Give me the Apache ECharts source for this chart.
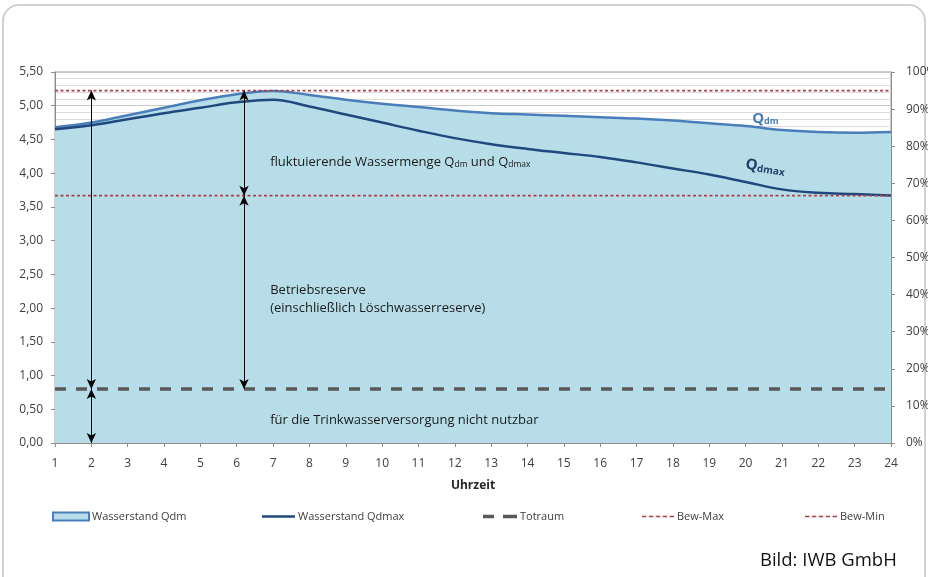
<!DOCTYPE html>
<html>
<head>
<meta charset="utf-8">
<script src="https://cdn.jsdelivr.net/npm/echarts@6/dist/echarts.min.js"></script>
<style>
html,body{margin:0;padding:0;background:#fff;}
#c{width:928px;height:577px;}
</style>
</head>
<body>
<div id="c"></div>
<script>
const hours = [1,2,3,4,5,6,7,8,9,10,11,12,13,14,15,16,17,18,19,20,21,22,23,24];
const qdm   = [4.68,4.75,4.86,4.97,5.08,5.17,5.22,5.16,5.09,5.03,4.98,4.93,4.89,4.87,4.85,4.83,4.81,4.78,4.74,4.70,4.64,4.61,4.60,4.61];
const qdmax = [4.65,4.71,4.80,4.89,4.97,5.05,5.09,4.99,4.87,4.75,4.63,4.52,4.43,4.36,4.30,4.24,4.16,4.07,3.98,3.87,3.76,3.71,3.69,3.67];
const totraum = 0.8;
const bewMax = 5.225;
const bewMin = 3.667;
const seriesNames = ['Wasserstand Qdm','Wasserstand Qdmax','Totraum','Bew-Max','Bew-Min'];

const FONT = 'Open Sans';
const chart = echarts.init(document.getElementById('c'), null, {renderer:'canvas'});

const pairs = arr => hours.map((h,i)=>[h, arr[i]]);
const flat = v => [[hours[0], v],[hours[hours.length-1], v]];

const txt = {fontFamily:FONT, fontSize:13, color:'#1a1a1a'};

// legend icon shapes
const iconSolid = 'path://M0,0h34v2.6h-34z';
const iconTot = 'path://M0,0h11v3.6h-11z M20,0h14v3.6h-14z';
let dashes = '';
for (let i = 0; i < 5; i++) dashes += 'M' + (i*7) + ',0h4.5v1.6h-4.5z ';
const iconBew = 'path://' + dashes;

const option = {
  animation:false,
  textStyle:{fontFamily:FONT},
  grid:{left:55, right:37, top:72, bottom:134, outerBoundsMode:'none', containLabel:false,
        show:true, borderColor:'#9a9a9a', borderWidth:1, backgroundColor:'rgba(0,0,0,0)'},
  graphic:[
    {type:'rect', shape:{x:3, y:5, width:922, height:620, r:16}, style:{fill:'none', stroke:'#c4c4c4', lineWidth:1.5}, silent:true, z:-10},
    {type:'text', left:760, top:551, style:{text:'Bild: IWB GmbH', fontFamily:FONT, fontSize:18.5, fill:'#111'}}
  ],
  legend: [
    {left:47, itemWidth:36, itemHeight:8, data:[{name:seriesNames[0], icon:'rect', itemStyle:{color:'#b7dee8', borderColor:'#4a7ebb', borderWidth:2}}]},
    {left:257, itemWidth:33, itemHeight:2.6, data:[{name:seriesNames[1], icon:iconSolid, itemStyle:{color:'#1f497d'}}]},
    {left:478, itemWidth:34, itemHeight:3.6, data:[{name:seriesNames[2], icon:iconTot, itemStyle:{color:'#595959'}}]},
    {left:637, itemWidth:32, itemHeight:1.6, data:[{name:seriesNames[3], icon:iconBew, itemStyle:{color:'#a8414c'}}]},
    {left:800, itemWidth:32, itemHeight:1.6, data:[{name:seriesNames[4], icon:iconBew, itemStyle:{color:'#a8414c'}}]}
  ].map(l => Object.assign({top:506, itemGap:5, selectedMode:false,
      textStyle:{fontFamily:FONT, fontSize:11, color:'#404040', padding:[0,0,0,-2]}}, l)),
  xAxis:{
    type:'value', min:1, max:24, interval:1,
    name:'Uhrzeit', nameLocation:'middle', nameGap:37,
    nameTextStyle:{fontFamily:FONT, fontSize:12, fontWeight:'bold', color:'#262626'},
    axisLine:{show:true, lineStyle:{color:'#8c8c8c', width:1}},
    axisTick:{show:true, length:4, lineStyle:{color:'#8c8c8c'}},
    axisLabel:{fontFamily:FONT, fontSize:12, color:'#404040', margin:15},
    splitLine:{show:false}
  },
  yAxis:[
    {
      type:'value', min:0, max:5.5, interval:0.5, position:'left',
      axisLine:{show:true, lineStyle:{color:'#8c8c8c'}},
      axisTick:{show:true, length:4, lineStyle:{color:'#8c8c8c'}},
      axisLabel:{fontFamily:FONT, fontSize:12, color:'#404040', margin:12, formatter:v=>v.toFixed(2).replace('.',',')},
      splitLine:{show:true, lineStyle:{color:'#c9c9c9', width:1}},
      minorTick:{show:false, splitNumber:5},
      minorSplitLine:{show:true, lineStyle:{color:'#dcdcdc', width:1}}
    },
    {
      type:'value', min:0, max:100, interval:10, position:'right',
      axisLine:{show:true, lineStyle:{color:'#8c8c8c'}},
      axisTick:{show:true, length:4, lineStyle:{color:'#8c8c8c'}},
      axisLabel:{fontFamily:FONT, fontSize:12, color:'#404040', margin:15, formatter:v=>v+'%'},
      splitLine:{show:false}
    }
  ],
  series:[
    {
      name:seriesNames[0], type:'line', data:pairs(qdm), smooth:0.4, symbol:'none', z:2,
      lineStyle:{color:'#4a7ebb', width:2.5}, itemStyle:{color:'#4a7ebb'},
      areaStyle:{color:'#b7dee8', opacity:1}
    },
    {
      name:seriesNames[1], type:'line', data:pairs(qdmax), smooth:0.4, symbol:'none', z:3,
      lineStyle:{color:'#1f497d', width:2.5}, itemStyle:{color:'#1f497d'}
    },
    {
      name:seriesNames[2], type:'line', data:flat(totraum), symbol:'none', z:4,
      lineStyle:{color:'#595959', width:3.5, type:[11,10]}, itemStyle:{color:'#595959'},
      markLine:{
        silent:true, symbol:['arrow','arrow'], symbolSize:[7,10], precision:3,
        lineStyle:{color:'#000', width:1, type:'solid'}, label:{show:false}, emphasis:{disabled:true},
        data:[
          [{coord:[2,0]},{coord:[2,totraum]}],
          [{coord:[2,totraum]},{coord:[2,bewMax]}],
          [{coord:[6.2,totraum]},{coord:[6.2,bewMin]}],
          [{coord:[6.2,bewMin]},{coord:[6.2,bewMax]}]
        ]
      },
      markPoint:{
        silent:true, symbol:'circle', symbolSize:0,
        data:[
          {coord:[6.92,4.185], label:{show:true, position:'right', distance:0,
            formatter:'{t|fluktuierende Wassermenge Q}{s|dm}{t| und Q}{s|dmax}',
            rich:{t:Object.assign({lineHeight:17, verticalAlign:'bottom'}, txt), s:Object.assign({}, txt, {fontSize:8.5, lineHeight:12, verticalAlign:'bottom'})}}},
          {coord:[6.92,2.135], label:{show:true, position:'right', distance:0, formatter:'Betriebsreserve\n(einschließlich Löschwasserreserve)', fontFamily:FONT, fontSize:13, color:'#1a1a1a', lineHeight:18}},
          {coord:[6.92,0.34], label:{show:true, position:'right', distance:0, formatter:'für die Trinkwasserversorgung nicht nutzbar', fontFamily:FONT, fontSize:13, color:'#1a1a1a'}},
          {coord:[20.18,4.833], label:{show:true, position:'right', distance:0,
            formatter:'{q|Q}{s|dm}',
            rich:{q:{fontFamily:FONT, fontSize:15, fontWeight:'bold', color:'#4a7ebb', lineHeight:18, verticalAlign:'bottom'}, s:{fontFamily:FONT, fontSize:9, fontWeight:'bold', color:'#4a7ebb', lineHeight:13, verticalAlign:'bottom'}}}},
          {coord:[20.55,4.107], label:{show:true, position:'inside', rotate:-9,
            formatter:'{q|Q}{s|dmax}',
            rich:{q:{fontFamily:FONT, fontSize:15, fontWeight:'bold', color:'#1f3f6b', lineHeight:18, verticalAlign:'bottom'}, s:{fontFamily:FONT, fontSize:10, fontWeight:'bold', color:'#1f3f6b', lineHeight:13, verticalAlign:'bottom'}}}}
        ]
      }
    },
    {
      name:seriesNames[3], type:'line', data:flat(bewMax), symbol:'none', z:4,
      lineStyle:{color:'#a8414c', width:1.8, type:[3,2.5]}, itemStyle:{color:'#a8414c'}
    },
    {
      name:seriesNames[4], type:'line', data:flat(bewMin), symbol:'none', z:4,
      lineStyle:{color:'#a8414c', width:1.8, type:[3,2.5]}, itemStyle:{color:'#a8414c'}
    }
  ]
};
chart.setOption(option);
</script>
</body>
</html>
